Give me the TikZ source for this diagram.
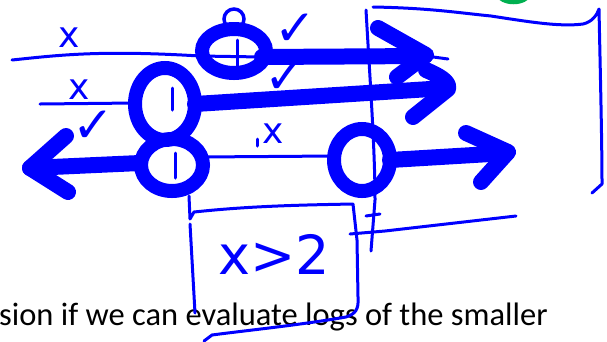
\documentclass[tikz,border=0pt]{standalone}
\usepackage{fontspec}
\newfontfamily\carlito{Carlito}
\newfontfamily\dejavu{DejaVu Sans}
\definecolor{ink}{RGB}{0,0,255}
\definecolor{grn}{RGB}{0,176,80}
\begin{document}
\begin{tikzpicture}[x=1pt,y=-1pt,
  thinline/.style={draw=ink,line width=3pt,line cap=round,line join=round},
  thickline/.style={draw=ink,line width=16pt,line cap=round,line join=round},
  ring/.style={draw=ink,line width=14pt},
  xlabel/.style={text=ink,inner sep=0pt,font=\dejavu\fontsize{36}{36}\selectfont},
  ticklabel/.style={text=ink,inner sep=0pt,font=\dejavu\fontsize{50}{50}\selectfont}]
\useasboundingbox (0,0) rectangle (607,341);
% bottom text
\node[anchor=base west,inner sep=0pt,font=\carlito\fontsize{32.5}{32.5}\selectfont] (caption) at (-1,325) {sion if we can evaluate logs of the smaller};
% green blob
\draw[grn,line width=5pt] (501,-2) .. controls (507,3) and (520,3) .. (526,-2);
% right frame
\draw[thinline] (373,7) .. controls (430,8) and (460,13) .. (491,16) .. controls (530,22) and (560,27) .. (583,24) .. controls (592,22) and (597,15) .. (599,9) .. controls (600,60) and (602,140) .. (602,184) -- (592,193);
% vertical line
\draw[thinline] (366,10) .. controls (370,80) and (375,150) .. (375,200) -- (371,251);
\draw[thinline] (350,234) -- (385,231) -- (516,216);
\draw[thinline] (366,216) -- (380,214);
% thin horizontals
\draw[thinline] (12,60) .. controls (60,55) and (100,50) .. (200,56) -- (262,57);
\draw[thinline] (426,56) -- (448,59);
\draw[thinline] (40,104) -- (135,103);
\draw[thinline] (200,157) -- (335,156);
% box
\draw[thinline] (189,196) -- (190,219) -- (194,212) .. controls (250,206) and (300,205) .. (353,204) -- (357,240) -- (358,297) .. controls (359,310) and (355,314) .. (346,317) .. controls (300,325) and (250,330) .. (212,335) -- (204,341);
\draw[thinline] (190,224) -- (195,313);
\node[text=ink,inner sep=0pt,font=\dejavu\fontsize{54}{54}\selectfont] (cond) at (274,254) {x>2};
% rings
\draw[ring] (234,51) ellipse [x radius=32, y radius=22];
\draw[ink,line width=3.5pt] (234,19) circle [radius=10];
\draw[thinline] (237,40) -- (237,67);
\draw[ring] (165,104) ellipse [x radius=30, y radius=36];
\draw[thinline] (172,88) -- (172,110);
\draw[ring] (172,165) ellipse [x radius=31, y radius=26];
\draw[thinline] (175,153) -- (175,178);
\draw[ring] (362,160) ellipse [x radius=28, y radius=31];
% arrows
\draw[thickline] (262,57) -- (425,56);
\draw[thickline] (378,28) -- (426,55) -- (397,77);
\draw[thickline] (195,104) -- (446,88);
\draw[thickline] (426,70) .. controls (440,76) and (450,82) .. (448,89) -- (413,117);
\draw[thickline] (140,163) -- (30,168);
\draw[thickline] (66,136) -- (30,168) -- (68,192);
\draw[thickline] (390,160) -- (507,153);
\draw[thickline] (466,133) -- (508,152) -- (481,182);
% marks
\node[xlabel] (x1) at (69,38) {x};
\node[xlabel] (x2) at (79,90) {x};
\node[xlabel] (x3) at (273,134) {x};
\draw[thinline] (257,139) -- (257,146);
\node[ticklabel] (t1) at (295,30) {✓};
\node[ticklabel] (t2) at (285,78) {✓};
\node[ticklabel] (t3) at (93,127) {✓};
\end{tikzpicture}
\end{document}
